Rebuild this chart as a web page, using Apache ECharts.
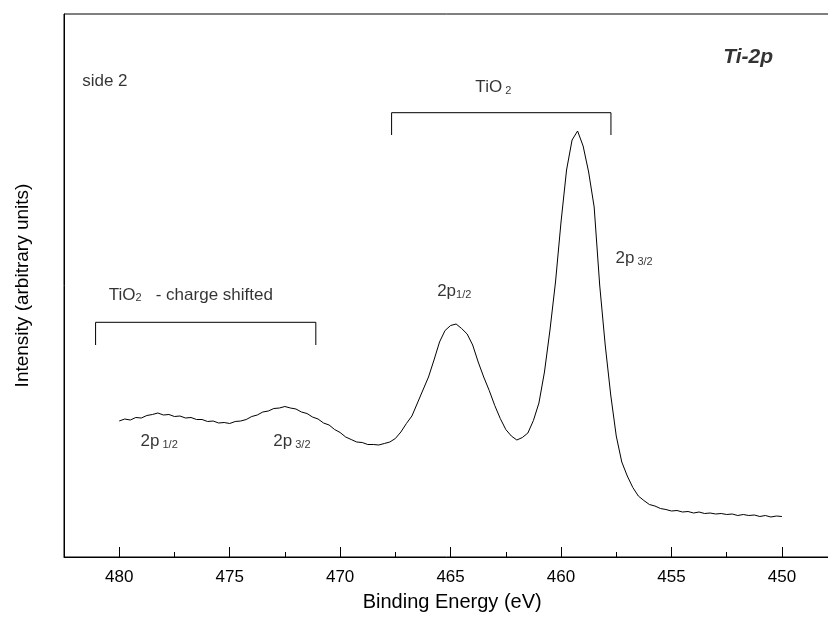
<!DOCTYPE html>
<html>
<head>
<meta charset="utf-8">
<title>Ti-2p XPS spectrum</title>
<script src="https://cdn.jsdelivr.net/npm/echarts@6/dist/echarts.min.js"></script>
<style>
  html, body { margin: 0; padding: 0; background: #fff; }
  #chart { width: 828px; height: 622px; }
</style>
</head>
<body>
<div id="chart"></div>
<script>
// Binding energy grid of the Ti-2p scan (eV, high to low)
const bindingEnergy = [
  480.00, 479.75, 479.50, 479.25, 479.00, 478.75, 478.50, 478.25, 478.00, 477.75,
  477.50, 477.25, 477.00, 476.75, 476.50, 476.25, 476.00, 475.75, 475.50, 475.25,
  475.00, 474.75, 474.50, 474.25, 474.00, 473.75, 473.50, 473.25, 473.00, 472.75,
  472.50, 472.25, 472.00, 471.75, 471.50, 471.25, 471.00, 470.75, 470.50, 470.25,
  470.00, 469.75, 469.50, 469.25, 469.00, 468.75, 468.50, 468.25, 468.00, 467.75,
  467.50, 467.25, 467.00, 466.75, 466.50, 466.25, 466.00, 465.75, 465.50, 465.25,
  465.00, 464.75, 464.50, 464.25, 464.00, 463.75, 463.50, 463.25, 463.00, 462.75,
  462.50, 462.25, 462.00, 461.75, 461.50, 461.25, 461.00, 460.75, 460.50, 460.25,
  460.00, 459.75, 459.50, 459.25, 459.00, 458.75, 458.50, 458.25, 458.00, 457.75,
  457.50, 457.25, 457.00, 456.75, 456.50, 456.25, 456.00, 455.75, 455.50, 455.25,
  455.00, 454.75, 454.50, 454.25, 454.00, 453.75, 453.50, 453.25, 453.00, 452.75,
  452.50, 452.25, 452.00, 451.75, 451.50, 451.25, 451.00, 450.75, 450.50, 450.25,
  450.00
];

// Measured intensity (arbitrary units)
const intensity = [
  136, 138, 137, 139.5, 139, 141.5, 142.5, 144, 142, 142.5,
  140.5, 141, 139, 139.5, 137.5, 137.5, 135.5, 136, 134, 134.5,
  133.5, 135.5, 136, 137.5, 140.5, 142, 145, 146, 148.5, 149,
  150.5, 149, 148, 145, 143.5, 140, 138, 134, 132, 127.5,
  124.5, 120, 117.5, 115, 114.5, 112.5, 112.5, 112, 113.5, 115,
  118.5, 125, 133.5, 141, 154, 167, 180, 197, 215, 226.5,
  231.5, 233, 228.5, 223, 212, 195, 180, 166.5, 151.5, 138.5,
  127.5, 121, 117, 119.5, 124, 136.5, 154, 185, 227, 275,
  335, 387, 417, 426, 411, 385, 350, 272, 212, 162,
  121, 95, 81, 69.5, 61, 56.5, 52.5, 51, 48.5, 47.5,
  46, 46.5, 45, 45.5, 44, 45, 43.5, 44, 43, 43.5,
  42.5, 43, 41.5, 42.5, 41.5, 42, 40.5, 41.5, 40, 41,
  40.5
];

// Axis tick values
const majorTickStep = 5;
const minorTickStep = 2.5;
const energyMin = 445;
const energyMax = 482.5;
const intensityMax = 543;

// Peak-group brackets: [energy, intensity] corners
const bracketTiO2 = [[467.67, 422], [467.67, 444.3], [457.74, 444.3], [457.74, 422]];
const bracketShifted = [[481.07, 212], [481.07, 234.7], [471.10, 234.7], [471.10, 212]];

// Annotation texts and their anchor points [energy, intensity]
const annotationTexts = [
  '{m|side 2}',
  '{t|Ti-2p}',
  '{m|TiO}{s| 2}',
  '{m|TiO}{s|2}{m|   - charge shifted}',
  '{m|2p}{s|1/2}',
  '{m|2p}{s| 3/2}',
  '{m|2p}{sl| 1/2}',
  '{m|2p}{sl| 3/2}'
];
const annotationAnchors = [
  [481.70, 476],
  [452.68, 500],
  [463.90, 470],
  [480.50, 262.5],
  [465.63, 266],
  [457.56, 299],
  [479.06, 116],
  [473.05, 116]
];

const FONT = 'Liberation Sans, Arial, Helvetica, sans-serif';

const spectrum = bindingEnergy.map((e, i) => [e, intensity[i]]);

const chart = echarts.init(document.getElementById('chart'), null, { renderer: 'canvas' });

const bracketSeries = (pts) => ({
  type: 'line',
  xAxisIndex: 0,
  data: pts,
  showSymbol: false,
  symbol: 'none',
  silent: true,
  lineStyle: { color: '#000', width: 1 },
  z: 3
});

chart.setOption({
  animation: false,
  backgroundColor: '#fff',
  textStyle: { fontFamily: FONT, color: '#000' },
  grid: {
    left: 64,
    top: 14,
    width: (energyMax - energyMin) * 22.09,
    height: 543,
    show: true,
    borderColor: '#000',
    borderWidth: 1,
    backgroundColor: 'transparent',
    containLabel: false,
    outerBoundsMode: 'none'
  },
  xAxis: [
    {
      type: 'value',
      position: 'bottom',
      inverse: true,
      min: energyMin,
      max: energyMax,
      interval: majorTickStep,
      splitLine: { show: false },
      axisLine: { show: true, onZero: false, lineStyle: { color: '#000', width: 1 } },
      axisTick: { show: true, inside: true, length: 10, lineStyle: { color: '#000', width: 1 } },
      axisLabel: {
        show: true,
        margin: 12,
        fontSize: 17,
        fontFamily: FONT,
        color: '#000',
        showMinLabel: true,
        showMaxLabel: true,
        formatter: (v) => (Math.abs(v % majorTickStep) < 1e-9 ? String(v) : '')
      },
      name: 'Binding Energy (eV)',
      nameLocation: 'middle',
      nameGap: 35,
      nameTextStyle: { fontSize: 20, fontFamily: FONT, color: '#000', padding: [0, 52, 0, 0] }
    },
    {
      type: 'value',
      position: 'bottom',
      inverse: true,
      min: energyMin,
      max: energyMax,
      interval: minorTickStep,
      splitLine: { show: false },
      axisLine: { show: false, onZero: false },
      axisTick: { show: true, inside: true, length: 5, lineStyle: { color: '#000', width: 1 } },
      axisLabel: { show: false }
    }
  ],
  yAxis: {
    type: 'value',
    min: 0,
    max: intensityMax,
    splitLine: { show: false },
    axisLine: { show: true, onZero: false, lineStyle: { color: '#000', width: 1 } },
    axisTick: { show: false },
    axisLabel: { show: false },
    name: 'Intensity (arbitrary units)',
    nameLocation: 'middle',
    nameRotate: 90,
    nameGap: 32,
    nameTextStyle: { fontSize: 19, fontFamily: FONT, color: '#000' }
  },
  series: [
    {
      name: 'Ti-2p',
      type: 'line',
      xAxisIndex: 0,
      data: spectrum,
      showSymbol: false,
      symbol: 'none',
      silent: true,
      lineStyle: { color: '#000', width: 1 },
      z: 4
    },
    bracketSeries(bracketTiO2),
    bracketSeries(bracketShifted),
    {
      type: 'scatter',
      xAxisIndex: 0,
      silent: true,
      symbolSize: 1,
      itemStyle: { color: 'rgba(0,0,0,0)' },
      data: annotationAnchors.map((p, i) => ({
        value: p,
        label: { formatter: annotationTexts[i] }
      })),
      label: {
        show: true,
        position: 'right',
        distance: 0,
        align: 'left',
        verticalAlign: 'middle',
        color: '#000',
        fontFamily: FONT,
        rich: {
          m: { fontSize: 17, lineHeight: 18, verticalAlign: 'bottom', fontFamily: FONT, color: '#000' },
          s: { fontSize: 11, lineHeight: 11, verticalAlign: 'bottom', fontFamily: FONT, color: '#000' },
          sl: { fontSize: 11, lineHeight: 8, verticalAlign: 'bottom', fontFamily: FONT, color: '#000' },
          t: { fontSize: 21, lineHeight: 22, fontWeight: 'bold', fontStyle: 'italic', fontFamily: FONT, color: '#000' }
        }
      },
      z: 5
    }
  ]
});
</script>
</body>
</html>
